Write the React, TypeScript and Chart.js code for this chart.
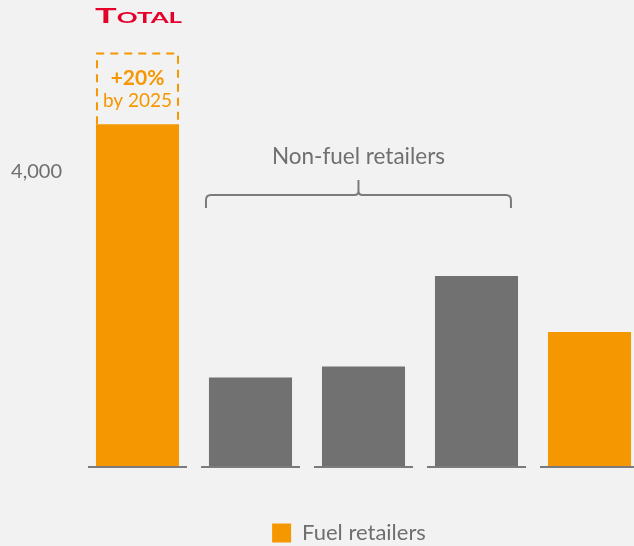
import React, { useEffect, useRef } from 'react';
import { Chart, registerables } from 'chart.js';

Chart.register(...registerables);

// ---- data ----
const categories = ['TOTAL', 'Non-fuel retailer 1', 'Non-fuel retailer 2', 'Non-fuel retailer 3', 'Fuel retailer 2'];
const fuelValues: (number | null)[] = [4640, null, null, null, 1820];
const nonFuelValues: (number | null)[] = [null, 1200, 1350, 2580, null];
const fuelTarget2025 = 5600; // dashed projection on first bar
const targetTexts = ['+20%', 'by 2025'];
const yTicks = [4000];
const logoText = 'TOTAL';
const braceText = 'Non-fuel retailers';
const fuelLabel = 'Fuel retailers';
const nonFuelLabel = 'Non-fuel retailers';

// ---- styles ----
const ORANGE = '#f59700';
const GRAY = '#717171';
const TEXT = '#6f6f6f';
const LINE = '#7b7b7b';
const RED = '#e4002b';
const FONT = 'Lato';

const annotations = {
  id: 'annotations',
  afterDatasetsDraw(chart: any) {
    const { ctx, chartArea } = chart;
    const x = chart.scales.x;
    const y = chart.scales.y;
    const step = x.getPixelForValue(1) - x.getPixelForValue(0);
    ctx.save();

    // baseline segments under each category
    ctx.strokeStyle = LINE;
    ctx.lineWidth = 2;
    categories.forEach((_, i) => {
      const cx = x.getPixelForValue(i);
      const half = step * 0.438;
      ctx.beginPath();
      ctx.moveTo(cx - half, chartArea.bottom + 1);
      ctx.lineTo(cx + half, chartArea.bottom + 1);
      ctx.stroke();
    });

    // dashed projection box over first bar
    const bar = chart.getDatasetMeta(0).data[0];
    const bw = bar.width;
    const bl = bar.x - bw / 2;
    const topY = y.getPixelForValue(fuelTarget2025);
    ctx.setLineDash([8, 6]);
    ctx.strokeStyle = ORANGE;
    ctx.lineWidth = 2;
    ctx.beginPath();
    ctx.moveTo(bl + 1, bar.y);
    ctx.lineTo(bl + 1, topY);
    ctx.lineTo(bl + bw - 1, topY);
    ctx.lineTo(bl + bw - 1, bar.y);
    ctx.stroke();
    ctx.setLineDash([]);
    ctx.fillStyle = ORANGE;
    ctx.textAlign = 'center';
    ctx.textBaseline = 'middle';
    ctx.font = `bold 21px ${FONT}`;
    ctx.fillText(targetTexts[0], bar.x, topY + 25);
    ctx.font = `19px ${FONT}`;
    ctx.fillText(targetTexts[1], bar.x, topY + 47);

    // logo
    ctx.fillStyle = RED;
    ctx.textBaseline = 'alphabetic';
    ctx.textAlign = 'left';
    const big = `bold 21px ${FONT}`;
    const small = `bold 15px ${FONT}`;
    ctx.font = big;
    const w1 = ctx.measureText(logoText[0]).width;
    ctx.font = small;
    const w2 = ctx.measureText(logoText.slice(1)).width;
    const targetW = 87;
    const sx = targetW / (w1 + w2);
    ctx.save();
    ctx.translate(bar.x - targetW / 2 + 1, 23);
    ctx.scale(sx, 1);
    ctx.font = big;
    ctx.fillText(logoText[0], 0, 0);
    ctx.font = small;
    ctx.fillText(logoText.slice(1), w1, 0);
    ctx.restore();

    // brace over non-fuel bars
    const L = x.getPixelForValue(1) - step * 0.394;
    const R = x.getPixelForValue(3) + step * 0.305;
    const M = (L + R) / 2;
    const yb = 208, yh = 195, yt = 180, r = 5;
    ctx.strokeStyle = LINE;
    ctx.lineWidth = 2;
    ctx.beginPath();
    ctx.moveTo(L, yb);
    ctx.lineTo(L, yh + r);
    ctx.quadraticCurveTo(L, yh, L + r, yh);
    ctx.lineTo(M - 4, yh);
    ctx.quadraticCurveTo(M, yh, M, yh - 4);
    ctx.lineTo(M, yt);
    ctx.moveTo(M, yh - 4);
    ctx.quadraticCurveTo(M, yh, M + 4, yh);
    ctx.lineTo(R - r, yh);
    ctx.quadraticCurveTo(R, yh, R, yh + r);
    ctx.lineTo(R, yb);
    ctx.stroke();
    ctx.fillStyle = TEXT;
    ctx.font = `22.5px ${FONT}`;
    ctx.textAlign = 'center';
    ctx.textBaseline = 'middle';
    ctx.fillText(braceText, M, 157);

    ctx.restore();
  },
};

export default function App() {
  const ref = useRef<HTMLCanvasElement>(null);
  useEffect(() => {
    Chart.defaults.font.family = FONT;
    const chart = new Chart(ref.current!, {
      type: 'bar',
      data: {
        labels: categories,
        datasets: [
          { label: fuelLabel, data: fuelValues, backgroundColor: ORANGE, borderWidth: 0, stack: 's' },
          { label: nonFuelLabel, data: nonFuelValues, backgroundColor: GRAY, borderWidth: 0, stack: 's' },
        ],
      },
      options: {
        responsive: false,
        animation: false,
        devicePixelRatio: 1,
        barPercentage: 0.735,
        categoryPercentage: 1,
        layout: { padding: { left: 0, right: 0, top: 24, bottom: 0 } },
        plugins: {
          tooltip: { enabled: false },
          legend: {
            position: 'bottom',
            labels: {
              boxWidth: 19,
              boxHeight: 19,
              padding: 10,
              color: TEXT,
              font: { size: 22, family: FONT },
              filter: (item: any) => item.datasetIndex === 0,
            },
          },
        },
        scales: {
          x: {
            stacked: true,
            ticks: { display: false },
            grid: { display: false, drawTicks: false },
            border: { display: false },
            afterFit: (s: any) => { s.height = 46; },
          },
          y: {
            stacked: true,
            min: 0,
            max: 6000,
            grid: { display: false, drawTicks: false },
            border: { display: false },
            afterBuildTicks: (s: any) => { s.ticks = yTicks.map((v) => ({ value: v })); },
            ticks: {
              padding: 19,
              color: TEXT,
              font: { size: 20, family: FONT },
              callback: (v: any) => Number(v).toLocaleString('en-US'),
            },
            afterFit: (s: any) => { s.width = 81; s.paddingTop = 0; s.paddingBottom = 0; },
          },
          // empty right-hand gutter (keeps the last bar running off the right edge)
          gutter: {
            type: 'linear',
            position: 'right',
            display: true,
            grid: { display: false, drawTicks: false },
            border: { display: false },
            ticks: { display: false },
            afterFit: (s: any) => { s.width = 52; s.paddingTop = 0; s.paddingBottom = 0; },
          },
        },
      },
      plugins: [annotations],
    });
    return () => chart.destroy();
  }, []);
  return (
    <div style={{ position: 'absolute', left: 0, top: 0, width: 634, height: 546, overflow: 'hidden', background: '#f2f2f2' }}>
      <canvas ref={ref} width={698} height={554} style={{ display: 'block' }} />
    </div>
  );
}
